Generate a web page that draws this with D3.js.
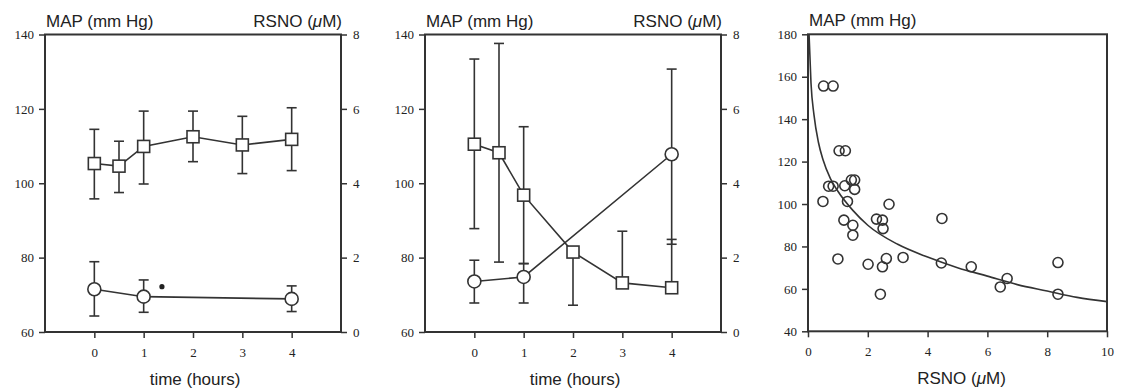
<!DOCTYPE html>
<meta charset="utf-8">
<script src="https://d3js.org/d3.v7.min.js"></script>
<style>
  body { margin: 0; background: #fff; }
  .tick text { font-family: "Liberation Serif", serif; font-size: 13px; fill: #222; }
  .tick line { stroke: #333; stroke-width: 1.5px; }
  .title { font-family: "Liberation Sans", Arial, sans-serif; font-size: 17px; fill: #222; }
</style>
<div id="my_dataviz"></div>
<script>

// panel 1 & 2 : time course, MAP (squares, left axis) and RSNO (circles, right axis)
var mapHours = [0, 0.5, 1, 2, 3, 4]
var rsnoHours = [0, 1, 4]

var map1   = [105.3, 104.6, 109.9, 112.5, 110.3, 111.8]
var map1Hi = [114.5, 111.3, 119.4, 119.4, 118.0, 120.3]
var map1Lo = [95.8, 97.5, 99.8, 105.8, 102.6, 103.4]
var rsno1   = [1.15, 0.95, 0.89]
var rsno1Hi = [1.89, 1.40, 1.24]
var rsno1Lo = [0.43, 0.53, 0.55]

var map2   = [110.5, 108.2, 96.8, 81.5, 73.2, 71.9]
var map2Hi = [133.4, 137.6, 115.2, 81.5, 87.1, 84.9]
var map2Lo = [87.8, 78.8, 78.4, 67.2, 73.2, 71.9]
var rsno2   = [1.36, 1.48, 4.78]
var rsno2Hi = [1.93, 1.84, 7.07]
var rsno2Lo = [0.78, 0.78, 2.36]

var timeTicks = [0, 1, 2, 3, 4]
var mapTicks = [60, 80, 100, 120, 140]
var rsnoTicks = [0, 2, 4, 6, 8]

// panel 3 : scatter of MAP vs RSNO with fitted curve
var scatterRsno = [0.52, 0.84, 1.04, 1.25, 0.50, 0.69, 0.84, 1.23, 1.32, 1.45, 1.56, 1.56, 1.20, 1.50, 1.50, 1.00, 2.01, 2.29, 2.49, 2.51, 2.71, 2.62, 2.49, 2.42, 3.18, 4.48, 4.46, 5.46, 6.43, 6.66, 8.36, 8.36]
var scatterMap  = [155.6, 155.6, 125.1, 125.1, 101.2, 108.4, 108.4, 108.6, 101.2, 111.3, 111.3, 106.9, 92.4, 90.0, 85.3, 74.1, 71.6, 92.9, 92.4, 88.4, 99.9, 74.3, 70.4, 57.5, 74.8, 93.2, 72.2, 70.4, 60.9, 64.9, 72.4, 57.5]
var fitRsno = [0.035, 0.1, 0.2, 0.35, 0.5, 0.75, 1, 1.5, 2, 3, 4, 5, 6, 7, 8, 9, 10]
var fitMap  = [180, 157, 142, 129, 121, 112, 106, 97, 90, 81, 75, 70, 66, 62, 59, 56, 54]
var scatterXTicks = [0, 2, 4, 6, 8, 10]
var scatterYTicks = [40, 60, 80, 100, 120, 140, 160, 180]

var width = 1127
var height = 392

var svg = d3.select("#my_dataviz")
  .append("svg")
  .attr("width", width)
  .attr("height", height)

var ink = "#333"
var intFmt = d3.format("d")

function frame(g, w, h) {
  g.append("rect")
    .attr("width", w)
    .attr("height", h)
    .attr("fill", "none")
    .attr("stroke", ink)
    .attr("stroke-width", 2)
}

// "RSNO (µM)" with the mu in italics
function rsnoLabel(t) {
  t.append("tspan").text("RSNO (")
  t.append("tspan").style("font-style", "italic").text("\u03bc")
  t.append("tspan").text("M)")
}

function errorBars(g, xs, ys, his, los, x, y) {
  var cap = 5
  xs.forEach(function(d, i) {
    g.append("line")
      .attr("x1", x(d)).attr("x2", x(d))
      .attr("y1", y(his[i])).attr("y2", y(los[i]))
      .attr("stroke", ink).attr("stroke-width", 1.6)
    if (his[i] != ys[i]) {
      g.append("line")
        .attr("x1", x(d) - cap).attr("x2", x(d) + cap)
        .attr("y1", y(his[i])).attr("y2", y(his[i]))
        .attr("stroke", ink).attr("stroke-width", 1.6)
    }
    if (los[i] != ys[i]) {
      g.append("line")
        .attr("x1", x(d) - cap).attr("x2", x(d) + cap)
        .attr("y1", y(los[i])).attr("y2", y(los[i]))
        .attr("stroke", ink).attr("stroke-width", 1.6)
    }
  })
}

// A function that draws one time-course panel
function timePanel(left, map, mapHi, mapLo, rsno, rsnoHi, rsnoLo, star) {
  var w = 296, h = 297.5, top = 34.5
  var g = svg.append("g").attr("transform", "translate(" + left + "," + top + ")")

  var x = d3.scaleLinear().domain([-1, 5]).range([0, w])
  var yMap = d3.scaleLinear().domain([60, 140]).range([h, 0])
  var yRsno = d3.scaleLinear().domain([0, 8]).range([h, 0])

  g.append("g").attr("transform", "translate(0," + h + ")")
    .call(d3.axisBottom(x).tickValues(timeTicks).tickFormat(intFmt).tickSize(6).tickSizeOuter(0).tickPadding(10))
  g.append("g")
    .call(d3.axisLeft(yMap).tickValues(mapTicks).tickSize(6).tickSizeOuter(0).tickPadding(5))
  g.append("g").attr("transform", "translate(" + w + ",0)")
    .call(d3.axisRight(yRsno).tickValues(rsnoTicks).tickSize(6).tickSizeOuter(0).tickPadding(6))
  g.selectAll(".domain").remove()
  frame(g, w, h)

  // error bars first, then lines and markers on top
  errorBars(g, mapHours, map, mapHi, mapLo, x, yMap)
  errorBars(g, rsnoHours, rsno, rsnoHi, rsnoLo, x, yRsno)

  g.append("path")
    .datum(mapHours.map(function(d, i) { return [d, map[i]] }))
    .attr("d", d3.line().x(function(d) { return x(d[0]) }).y(function(d) { return yMap(d[1]) }))
    .attr("fill", "none").attr("stroke", ink).attr("stroke-width", 1.6)
  g.append("path")
    .datum(rsnoHours.map(function(d, i) { return [d, rsno[i]] }))
    .attr("d", d3.line().x(function(d) { return x(d[0]) }).y(function(d) { return yRsno(d[1]) }))
    .attr("fill", "none").attr("stroke", ink).attr("stroke-width", 1.6)

  var s = 12
  g.selectAll(".sq")
    .data(mapHours)
    .enter()
    .append("rect")
    .attr("x", function(d) { return x(d) - s / 2 })
    .attr("y", function(d, i) { return yMap(map[i]) - s / 2 })
    .attr("width", s).attr("height", s)
    .attr("fill", "white").attr("stroke", ink).attr("stroke-width", 1.6)

  g.selectAll(".ci")
    .data(rsnoHours)
    .enter()
    .append("circle")
    .attr("cx", function(d) { return x(d) })
    .attr("cy", function(d, i) { return yRsno(rsno[i]) })
    .attr("r", 6.5)
    .attr("fill", "white").attr("stroke", ink).attr("stroke-width", 1.6)

  if (star) {
    g.append("circle")
      .attr("cx", x(star[0])).attr("cy", yRsno(star[1]))
      .attr("r", 2.6).attr("fill", "#222")
  }

  g.append("text").attr("class", "title")
    .attr("x", 1).attr("y", -8).text("MAP (mm Hg)")
  g.append("text").attr("class", "title")
    .attr("x", w + 1).attr("y", -8).attr("text-anchor", "end").call(rsnoLabel)
  g.append("text").attr("class", "title")
    .attr("x", w / 2 + 2).attr("y", 350).attr("text-anchor", "middle").text("time (hours)")
}

timePanel(45, map1, map1Hi, map1Lo, rsno1, rsno1Hi, rsno1Lo, [1.37, 1.22])
timePanel(425, map2, map2Hi, map2Lo, rsno2, rsno2Hi, rsno2Lo, null)

// scatter panel
var w3 = 299, h3 = 297
var g3 = svg.append("g").attr("transform", "translate(808,34.3)")
var x3 = d3.scaleLinear().domain([0, 10]).range([0, w3])
var y3 = d3.scaleLinear().domain([40, 180]).range([h3, 0])

g3.append("g").attr("transform", "translate(0," + h3 + ")")
  .call(d3.axisBottom(x3).tickValues(scatterXTicks).tickFormat(intFmt).tickSize(6).tickSizeOuter(0).tickPadding(9))
g3.append("g")
  .call(d3.axisLeft(y3).tickValues(scatterYTicks).tickSize(6).tickSizeOuter(0).tickPadding(5))
g3.selectAll(".domain").remove()
frame(g3, w3, h3)

g3.append("path")
  .datum(fitRsno.map(function(d, i) { return [d, fitMap[i]] }))
  .attr("d", d3.line().curve(d3.curveMonotoneX)
    .x(function(d) { return x3(d[0]) }).y(function(d) { return y3(d[1]) }))
  .attr("fill", "none").attr("stroke", ink).attr("stroke-width", 1.6)

g3.selectAll(".pt")
  .data(scatterRsno)
  .enter()
  .append("circle")
  .attr("cx", function(d) { return x3(d) })
  .attr("cy", function(d, i) { return y3(scatterMap[i]) })
  .attr("r", 5)
  .attr("fill", "none").attr("stroke", ink).attr("stroke-width", 1.6)

g3.append("text").attr("class", "title")
  .attr("x", 1).attr("y", -8).text("MAP (mm Hg)")
g3.append("text").attr("class", "title")
  .attr("x", w3 / 2 + 4).attr("y", 350).attr("text-anchor", "middle").call(rsnoLabel)

</script>
